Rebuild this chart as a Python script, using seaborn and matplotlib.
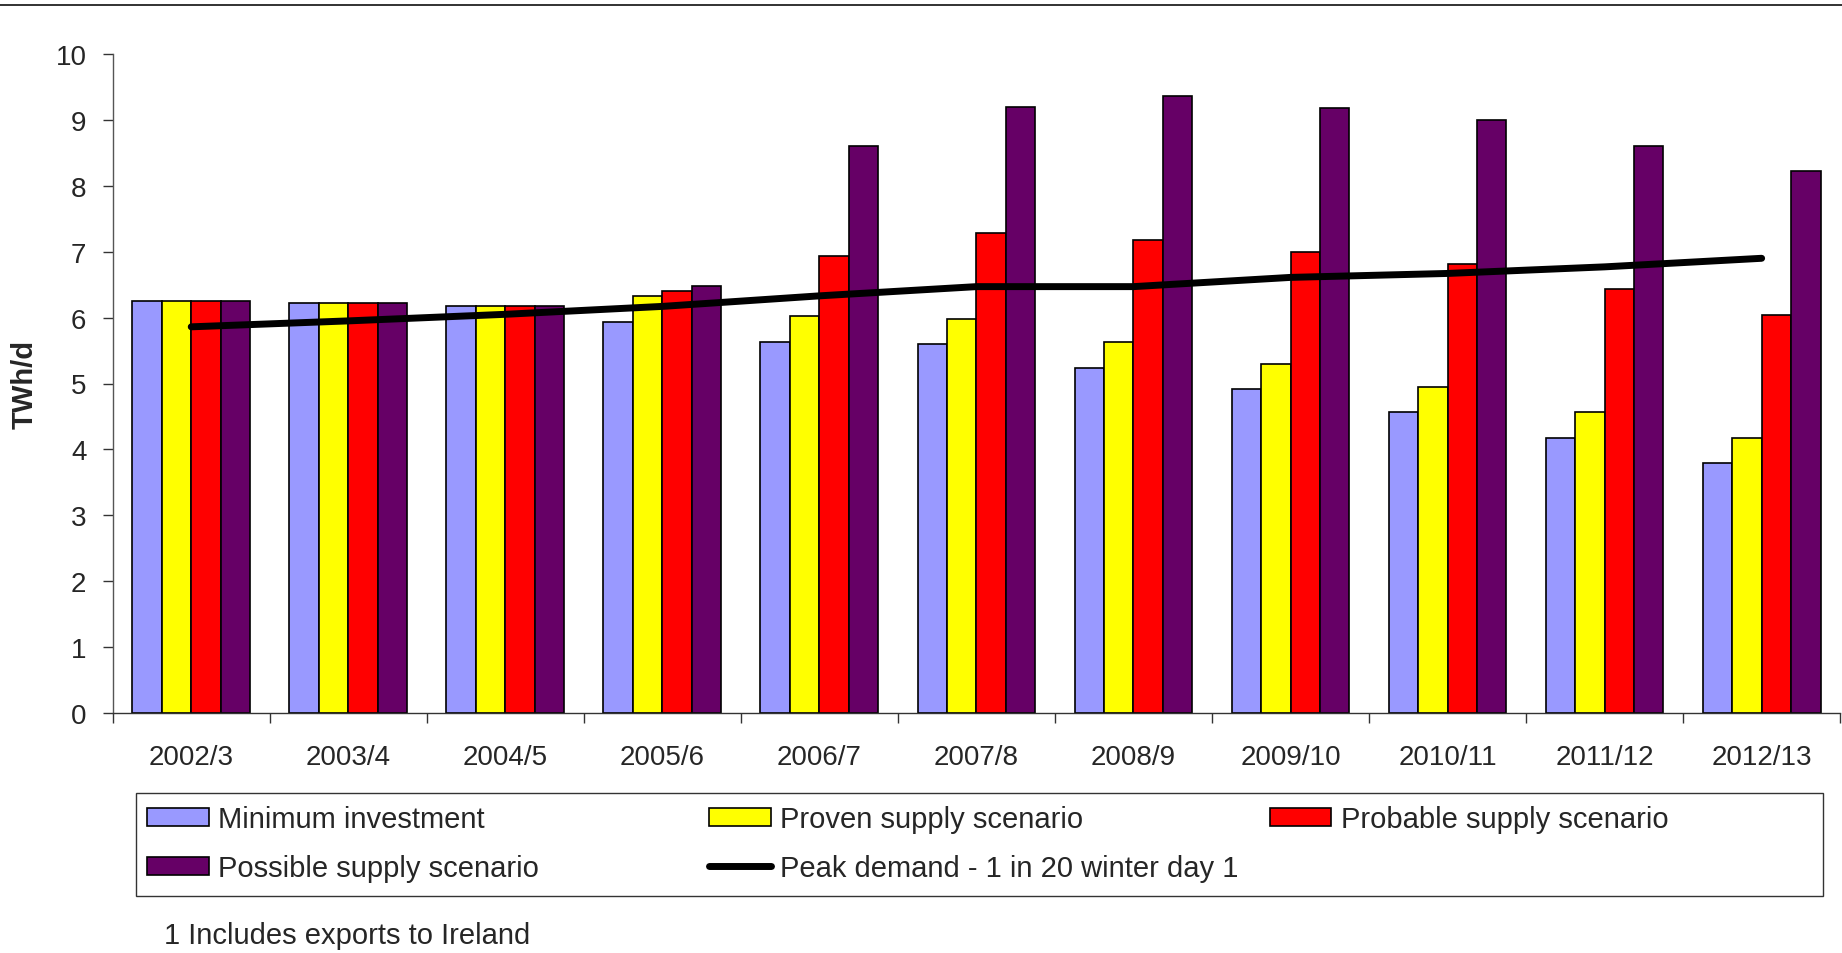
import numpy as np
import pandas as pd
import matplotlib
matplotlib.use("Agg")
import matplotlib.pyplot as plt
import seaborn as sns
from matplotlib.patches import Rectangle, Patch
from matplotlib.lines import Line2D

# data (TWh/d)
years = ['2002/3', '2003/4', '2004/5', '2005/6', '2006/7', '2007/8',
         '2008/9', '2009/10', '2010/11', '2011/12', '2012/13']
minimum_investment = [6.25, 6.22, 6.18, 5.94, 5.63, 5.60, 5.24, 4.91, 4.57, 4.18, 3.79]
proven_supply = [6.25, 6.22, 6.18, 6.33, 6.02, 5.98, 5.63, 5.30, 4.95, 4.57, 4.18]
probable_supply = [6.25, 6.22, 6.18, 6.40, 6.94, 7.29, 7.18, 6.99, 6.82, 6.43, 6.04]
possible_supply = [6.25, 6.22, 6.18, 6.48, 8.60, 9.20, 9.37, 9.18, 9.00, 8.61, 8.22]
peak_demand = [5.86, 5.95, 6.05, 6.17, 6.33, 6.47, 6.47, 6.61, 6.67, 6.77, 6.90]

series_names = ['Minimum investment', 'Proven supply scenario',
                'Probable supply scenario', 'Possible supply scenario']
series_colors = ['#9999FF', '#FFFF00', '#FF0000', '#660066']
line_label = 'Peak demand - 1 in 20 winter day 1'

sns.set_theme(style="white")
plt.rcParams['font.family'] = ['Liberation Sans', 'DejaVu Sans']

df = pd.DataFrame({
    'year': years * 4,
    'series': np.repeat(series_names, len(years)),
    'value': minimum_investment + proven_supply + probable_supply + possible_supply,
})

W, H = 1842, 954
fig = plt.figure(figsize=(W / 100, H / 100), dpi=100)
ax = fig.add_axes([112.7 / W, 1 - 714 / H, 0.999 - 112.7 / W, (714 - 55) / H])

sns.barplot(data=df, x='year', y='value', hue='series', order=years,
            hue_order=series_names, palette=series_colors, saturation=1,
            width=0.75, edgecolor='black', linewidth=1.2, legend=False, ax=ax)
sns.lineplot(x=np.arange(len(years)), y=peak_demand, color='black',
             linewidth=5, solid_capstyle='round', ax=ax)

ax.set_xlim(-0.5, len(years) - 0.5)
ax.set_ylim(0, 10)
ax.set_yticks(range(0, 11))
ax.set_xticks(np.arange(len(years)))
ax.set_xticklabels(years)
ax.set_xticks(np.arange(-0.5, len(years), 1), minor=True)
ax.set_xlabel('')
ax.set_ylabel('TWh/d', fontsize=21, fontweight='bold')
ax.yaxis.set_label_coords(-0.0426, 0.5)

for side in ['top', 'right']:
    ax.spines[side].set_visible(False)
ax.spines['left'].set_color('#555555')
ax.spines['bottom'].set_color('#333333')
ax.spines['left'].set_linewidth(1)
ax.spines['bottom'].set_linewidth(1)

ax.tick_params(axis='y', direction='out', left=True, length=7.2, width=1,
               color='#333333', pad=11.7, labelsize=20)
ax.tick_params(axis='x', which='major', bottom=True, length=0, pad=22, labelsize=20)
ax.tick_params(axis='x', which='minor', bottom=True, direction='out',
               length=7.2, width=1, color='#333333')
ax.grid(False)

# legend laid out in three columns like the original
patches = [Patch(facecolor=c, edgecolor='black', linewidth=1.2) for c in series_colors]
line_handle = Line2D([], [], color='black', linewidth=5, solid_capstyle='round')
columns = [
    ([patches[0], patches[3]], [series_names[0], series_names[3]], 147),
    ([patches[1], line_handle], [series_names[1], line_label], 709),
    ([patches[2]], [series_names[2]], 1269.5),
]
for handles, labels, x0 in columns:
    fig.legend(handles, labels, loc='upper left', bbox_to_anchor=(x0 / W, 1 - 806 / H),
               frameon=False, fontsize=21, borderpad=0, borderaxespad=0,
               handlelength=2.12, handleheight=0.58, handletextpad=0.33,
               labelspacing=0.72)

fig.add_artist(Rectangle((136 / W, 1 - 897 / H), (1823 - 136) / W, 103 / H,
                         transform=fig.transFigure, fill=False,
                         edgecolor='#333333', linewidth=1))
fig.add_artist(Line2D([0, 1], [1 - 6 / H, 1 - 6 / H], transform=fig.transFigure,
                      color='#222222', linewidth=1.3))

fig.text(164 / W, 1 - 944 / H, '1 Includes exports to Ireland', fontsize=21,
         va='baseline', ha='left')

plt.savefig('out.png', dpi=100)
